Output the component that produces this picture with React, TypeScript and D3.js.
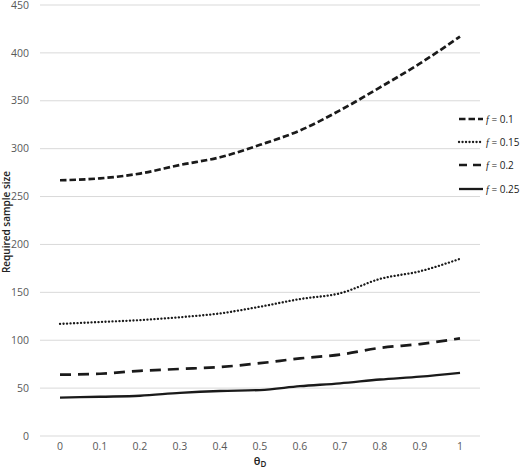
import React, { useEffect, useRef } from 'react';
import * as d3 from 'd3';

const thetaLabels = ['0', '0.1', '0.2', '0.3', '0.4', '0.5', '0.6', '0.7', '0.8', '0.9', '1'];
const seriesNames = ['0.1', '0.15', '0.2', '0.25'];
const f010 = [267, 269, 274, 283, 291, 304, 319, 340, 364, 389, 417];
const f015 = [117, 119, 121, 124, 128, 135, 143, 149, 164, 172, 185];
const f020 = [64, 65, 68, 70, 72, 76, 81, 85, 92, 96, 102];
const f025 = [40, 41, 42, 45, 47, 48, 52, 55, 59, 62, 66];
const yTicks = [0, 50, 100, 150, 200, 250, 300, 350, 400, 450];

const styles = [
  { dash: '6.5 3', width: 2.7, cap: 'butt' },
  { dash: '0.1 3.4', width: 2.3, cap: 'round' },
  { dash: '11 7', width: 2.7, cap: 'butt' },
  { dash: null, width: 2.3, cap: 'butt' },
];

const App: React.FC = () => {
  const svgRef = useRef<SVGSVGElement>(null);

  useEffect(() => {
    if (!svgRef.current) return;
    const left = 40, right = 480, top = 5, bottom = 436;
    const font = '"Open Sans", "Liberation Sans", sans-serif';

    const svg = d3.select(svgRef.current);
    svg.selectAll('*').remove();

    const x = d3.scaleBand<string>().domain(thetaLabels).range([left, right]);
    const y = d3.scaleLinear().domain([0, 450]).range([bottom, top]);
    const cx = (d: string) => (x(d) ?? 0) + x.bandwidth() / 2;

    // gridlines
    svg.append('g')
      .selectAll('line')
      .data(yTicks)
      .join('line')
      .attr('x1', left)
      .attr('x2', right)
      .attr('y1', d => y(d))
      .attr('y2', d => y(d))
      .attr('stroke', '#d9d9d9')
      .attr('stroke-width', 1);

    // y tick labels
    svg.append('g')
      .selectAll('text')
      .data(yTicks)
      .join('text')
      .attr('x', 29)
      .attr('y', d => y(d))
      .attr('dy', '0.35em')
      .attr('text-anchor', 'end')
      .attr('font-family', font)
      .attr('font-size', 10.5)
      .attr('fill', '#595959')
      .text(d => d);

    // x tick labels
    svg.append('g')
      .selectAll('text')
      .data(thetaLabels)
      .join('text')
      .attr('x', d => cx(d))
      .attr('y', 450)
      .attr('text-anchor', 'middle')
      .attr('font-family', font)
      .attr('font-size', 10.5)
      .attr('fill', '#595959')
      .text(d => d);

    // axis titles
    const xt = svg.append('text')
      .attr('x', 260)
      .attr('y', 465)
      .attr('text-anchor', 'middle')
      .attr('font-family', font)
      .attr('font-size', 11)
      .attr('font-weight', 600)
      .attr('fill', '#222');
    xt.append('tspan').text('θ');
    xt.append('tspan').attr('font-size', 8).attr('dy', 2).text('D');

    svg.append('text')
      .attr('transform', 'translate(10,222) rotate(-90)')
      .attr('text-anchor', 'middle')
      .attr('font-family', font)
      .attr('font-size', 10)
      .attr('font-weight', 600)
      .attr('fill', '#222')
      .text('Required sample size');

    const allSeries = [f010, f015, f020, f025];
    const line = d3.line<number>()
      .x((_, i) => cx(thetaLabels[i]))
      .y(d => y(d))
      .curve(d3.curveMonotoneX);

    allSeries.forEach((vals, i) => {
      const st = styles[i];
      const p = svg.append('path')
        .attr('d', line(vals) ?? '')
        .attr('fill', 'none')
        .attr('stroke', '#1a1a1a')
        .attr('stroke-width', st.width)
        .attr('stroke-linecap', st.cap)
        .attr('stroke-linejoin', 'round');
      if (st.dash) p.attr('stroke-dasharray', st.dash);
    });

    // legend
    const legendY = [119, 142, 165, 189];
    seriesNames.forEach((name, i) => {
      const st = styles[i];
      const g = svg.append('g');
      const l = g.append('line')
        .attr('x1', 459)
        .attr('x2', 483)
        .attr('y1', legendY[i])
        .attr('y2', legendY[i])
        .attr('stroke', '#1a1a1a')
        .attr('stroke-width', st.width)
        .attr('stroke-linecap', st.cap);
      if (i === 2) l.attr('stroke-dasharray', '8 6');
      else if (st.dash) l.attr('stroke-dasharray', st.dash);
      const t = g.append('text')
        .attr('x', 486)
        .attr('y', legendY[i])
        .attr('dy', '0.35em')
        .attr('font-family', font)
        .attr('font-size', 10)
        .attr('fill', '#222');
      t.append('tspan').attr('font-style', 'italic').attr('font-family', '"Liberation Serif", serif').text('f');
      t.append('tspan').text(` = ${name}`);
    });
  }, []);

  return (
    <svg
      ref={svgRef}
      width={520}
      height={470}
      style={{ position: 'absolute', left: 0, top: 0, background: '#fff' }}
    />
  );
};

export default App;
